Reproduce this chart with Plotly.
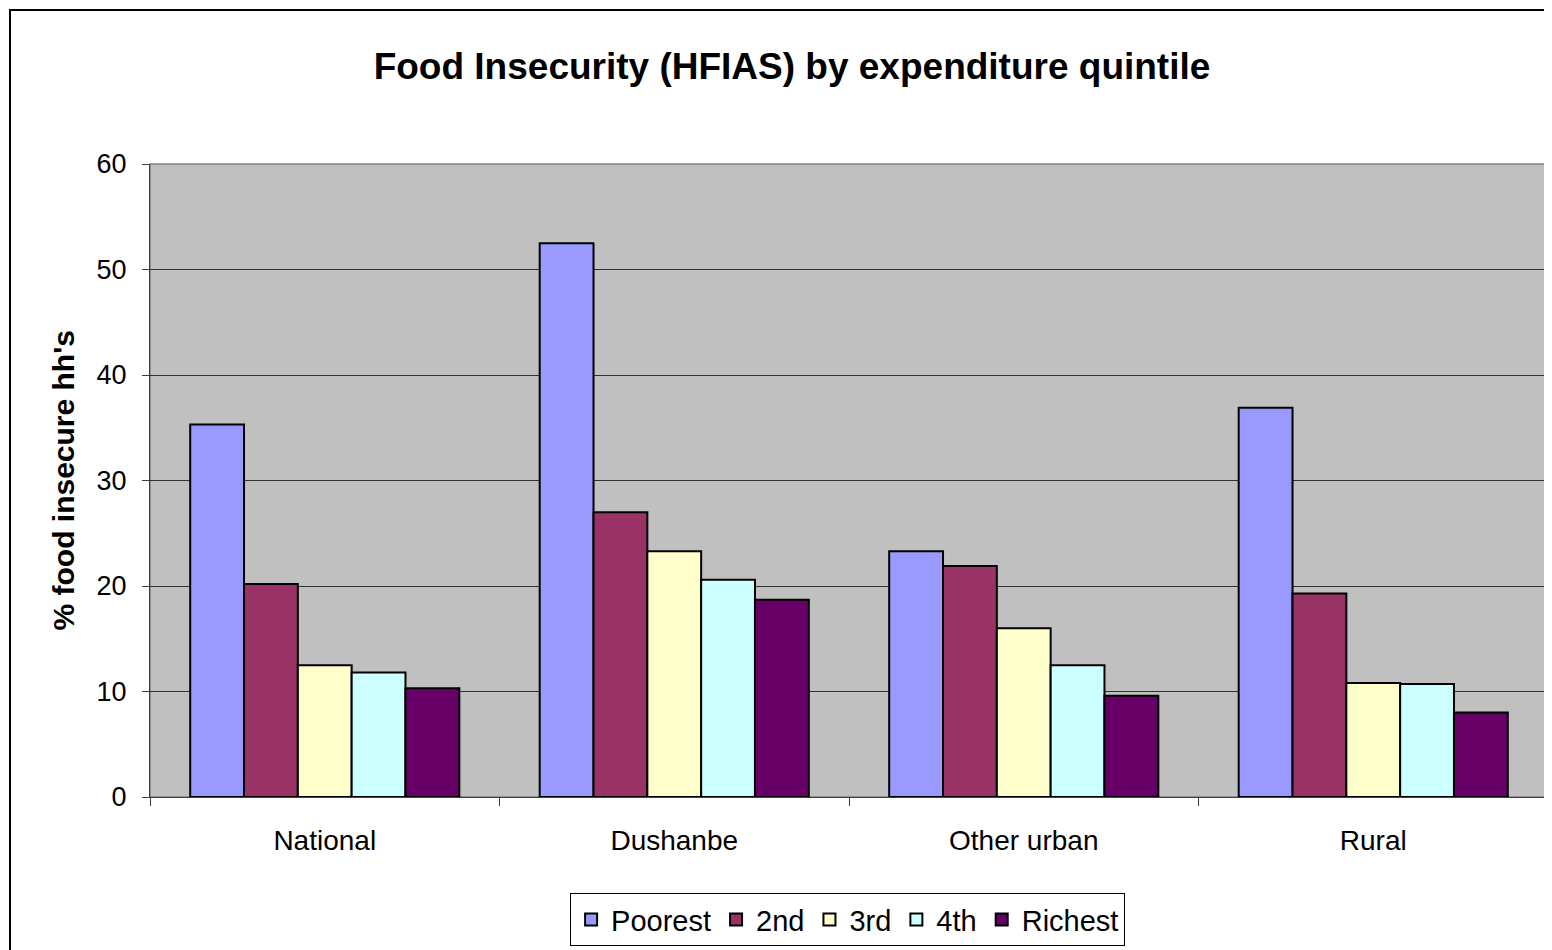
import plotly.graph_objects as go

categories = ["National", "Dushanbe", "Other urban", "Rural"]
series_names = ["Poorest", "2nd", "3rd", "4th", "Richest"]
poorest = [35.3, 52.5, 23.3, 36.9]
second = [20.2, 27.0, 21.9, 19.3]
third = [12.5, 23.3, 16.0, 10.8]
fourth = [11.8, 20.6, 12.5, 10.7]
richest = [10.3, 18.7, 9.6, 8.0]
y_ticks = [0, 10, 20, 30, 40, 50, 60]

values = [poorest, second, third, fourth, richest]
colors = ["#9999FF", "#993366", "#FFFFCC", "#CCFFFF", "#660066"]

FONT = "Arial, Liberation Sans, sans-serif"
W, H = 1544, 942  # page body has an 8px margin

fig = go.Figure()
for name, vals, col in zip(series_names, values, colors):
    fig.add_trace(go.Bar(
        x=categories, y=vals, name=name,
        marker=dict(color=col, line=dict(color="black", width=2)),
    ))

fig.update_layout(
    width=W, height=H,
    margin=dict(l=142, r=4, t=156, b=153),
    paper_bgcolor="white",
    plot_bgcolor="#C0C0C0",
    barmode="group",
    bargap=0.23,
    bargroupgap=0,
    font=dict(family=FONT, color="black"),
    title=dict(
        text="<b>Food Insecurity (HFIAS) by expenditure quintile</b>",
        font=dict(family=FONT, size=37, color="black"),
        x=(792 - 8) / W, xref="container", xanchor="center",
        y=1 - (66 - 8) / H, yref="container", yanchor="middle",
    ),
    showlegend=True,
    legend=dict(
        orientation="h",
        x=0.499, xanchor="center",
        y=-0.152, yanchor="top",
        bordercolor="black", borderwidth=1,
        bgcolor="white",
        font=dict(family=FONT, size=29, color="black"),
        itemwidth=30,
        tracegroupgap=0,
    ),
    xaxis=dict(
        showline=True, linecolor="#404040", linewidth=1,
        ticks="outside", tickson="boundaries", ticklen=8,
        tickcolor="#404040",
        tickfont=dict(family=FONT, size=28, color="black"),
        ticklabelstandoff=18,
        showgrid=False,
    ),
    yaxis=dict(
        range=[0, 60],
        tickvals=y_ticks,
        showline=True, linecolor="#404040", linewidth=1,
        ticks="outside", ticklen=7, tickcolor="#404040",
        tickfont=dict(family=FONT, size=27, color="black"),
        ticklabelstandoff=10,
        showgrid=True, gridcolor="#303030", gridwidth=1,
        zeroline=False,
    ),
    shapes=[
        dict(type="rect", xref="paper", yref="paper",
             x0=0, x1=1, y0=0, y1=1,
             line=dict(color="#808080", width=1.5), layer="below"),
        dict(type="rect", xref="paper", yref="paper",
             x0=(10 - 150) / 1398, x1=1.2,
             y0=-0.5, y1=(797 - 10) / 633,
             line=dict(color="black", width=2), layer="above"),
    ],
    annotations=[
        dict(text="<b>% food insecure hh's</b>", textangle=-90,
             xref="paper", yref="paper",
             x=(63 - 150) / 1398, y=0.5,
             xanchor="center", yanchor="middle", showarrow=False,
             font=dict(family=FONT, size=30, color="black")),
    ],
)

fig.write_html("out.html")
